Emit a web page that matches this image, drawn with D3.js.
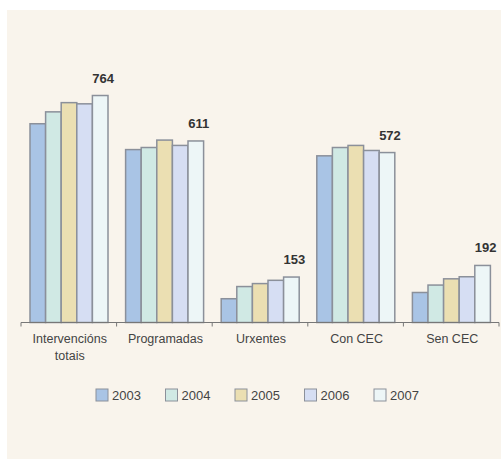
<!DOCTYPE html>
<html>
<head>
<meta charset="utf-8">
<script src="https://cdn.jsdelivr.net/npm/d3@7"></script>
<style>
  body { margin: 0; background: #ffffff; }
  svg { display: block; font-family: "Liberation Sans", Arial, sans-serif; }
</style>
</head>
<body>
<div id="chart"></div>
<script>
// data
var categories = ["Intervencións totais", "Programadas", "Urxentes", "Con CEC", "Sen CEC"];
var years = ["2003", "2004", "2005", "2006", "2007"];
var values = {
  "2003": [669, 582, 80, 561, 101],
  "2004": [709, 589, 121, 589, 126],
  "2005": [740, 614, 131, 596, 147],
  "2006": [736, 596, 142, 579, 154],
  "2007": [764, 611, 153, 572, 192]
};
var colors = ["#a9c4e5", "#d0e9e4", "#ebdfb2", "#d6def3", "#edf6f7"];

var svgWidth = 501;
var svgHeight = 459;

var svg = d3.select("#chart")
  .append("svg")
  .attr("width", svgWidth)
  .attr("height", svgHeight);

// cream panel
svg.append("rect")
  .attr("x", 7)
  .attr("y", 10)
  .attr("width", svgWidth - 7)
  .attr("height", svgHeight - 10)
  .attr("fill", "#f9f4ec");

var baseline = 322.5;

// scales
var x0 = d3.scaleBand()
  .domain(categories)
  .range([21, 499]);

var x1 = d3.scaleBand()
  .domain(years)
  .range([9, 87]);

var y = d3.scaleLinear()
  .domain([0, 800])
  .range([baseline, baseline - 800 * 0.2971]);

// bars
var rows = [];
categories.forEach(function(c, i) {
  years.forEach(function(yr, j) {
    rows.push({ cat: c, year: yr, value: values[yr][i], color: colors[j] });
  });
});

svg.append("g")
  .selectAll("rect")
  .data(rows)
  .enter()
  .append("rect")
  .attr("x", d => x0(d.cat) + x1(d.year))
  .attr("y", d => y(d.value))
  .attr("width", x1.bandwidth())
  .attr("height", d => baseline - y(d.value))
  .attr("fill", d => d.color)
  .attr("stroke", "#8b909a")
  .attr("stroke-width", 1.5);

// value labels over the 2007 bar
svg.append("g")
  .selectAll("text")
  .data(categories)
  .enter()
  .append("text")
  .attr("x", (d, i) => x0(d) + x1("2007") + x1.bandwidth() / 2 + 3)
  .attr("y", (d, i) => y(values["2007"][i]) - 13)
  .attr("text-anchor", "middle")
  .style("font-size", "13px")
  .style("font-weight", "bold")
  .style("fill", "#333")
  .text((d, i) => values["2007"][i]);

// axis line and ticks between groups
var axis = svg.append("g").attr("stroke", "#777").attr("stroke-width", 1);
axis.append("line")
  .attr("x1", x0.range()[0])
  .attr("x2", x0.range()[1])
  .attr("y1", baseline)
  .attr("y2", baseline);
var tickX = categories.map(c => x0(c)).concat([x0.range()[1]]);
axis.selectAll(".tick")
  .data(tickX)
  .enter()
  .append("line")
  .attr("x1", d => d)
  .attr("x2", d => d)
  .attr("y1", baseline)
  .attr("y2", baseline + 4);

// category labels
var catLabels = svg.append("g")
  .selectAll("text")
  .data(categories)
  .enter()
  .append("text")
  .attr("x", d => x0(d) + x0.bandwidth() / 2 + 1)
  .attr("y", 343)
  .attr("text-anchor", "middle")
  .style("font-size", "12.5px")
  .style("fill", "#444");

catLabels.each(function(d) {
  var t = d3.select(this);
  var parts = d === "Intervencións totais" ? ["Intervencións", "totais"] : [d];
  parts.forEach(function(p, k) {
    t.append("tspan")
      .attr("x", t.attr("x"))
      .attr("dy", k === 0 ? 0 : 17)
      .text(p);
  });
});

// legend
var lx = d3.scalePoint()
  .domain(years)
  .range([96, 374]);

var legend = svg.append("g")
  .selectAll("g")
  .data(years)
  .enter()
  .append("g")
  .attr("transform", d => `translate(${lx(d)}, 389)`);

legend.append("rect")
  .attr("width", 12)
  .attr("height", 12)
  .attr("fill", (d, i) => colors[i])
  .attr("stroke", "#8b909a")
  .attr("stroke-width", 1);

legend.append("text")
  .attr("x", 16)
  .attr("y", 11)
  .style("font-size", "13px")
  .style("fill", "#444")
  .text(d => d);
</script>
</body>
</html>
